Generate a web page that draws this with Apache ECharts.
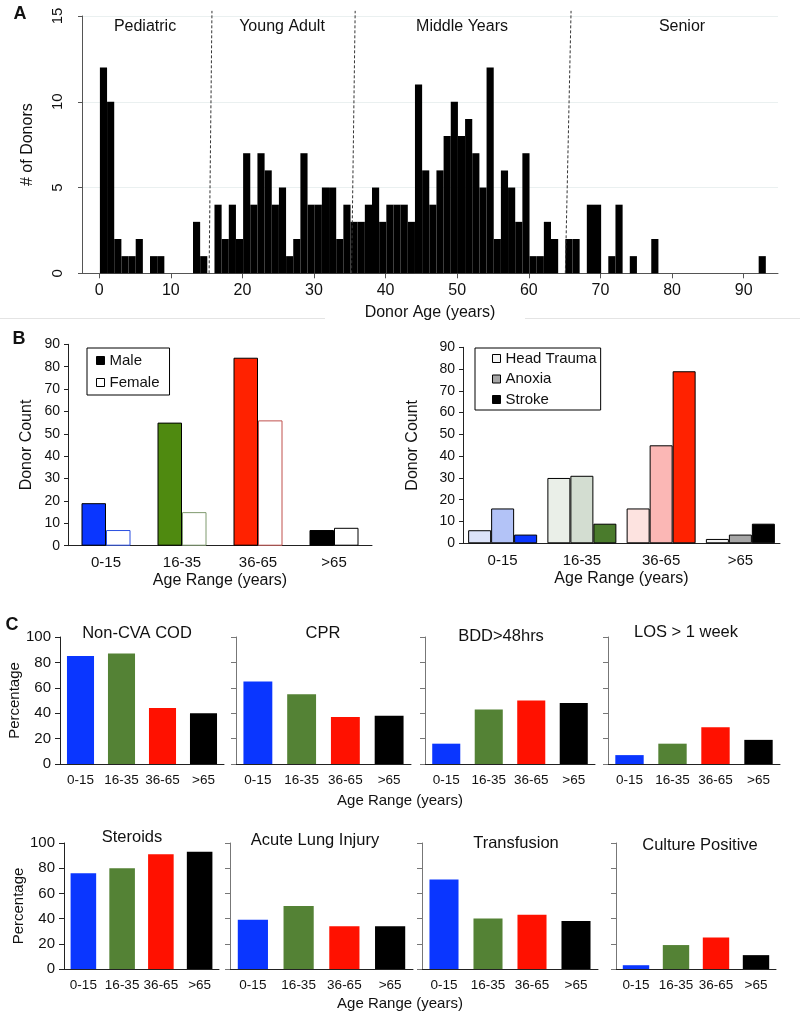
<!DOCTYPE html>
<html>
<head>
<meta charset="utf-8">
<title>Donor age figure</title>
<script src="https://cdnjs.cloudflare.com/ajax/libs/echarts/6.0.0/echarts.min.js"></script>
<style>body{margin:0;background:#fff;}</style>
</head>
<body>
<div id="fig" style="width:800px;height:1015px;"></div>
<script>
var FONT = '"Liberation Sans", Arial, sans-serif';

// ---------- data ----------
// panel A: number of donors per year of age (index = age)
var histCounts = [12,10,2,1,1,2,0,1,1,0, 0,0,0,3,1,0,4,2,4,2,
                  7,4,7,6,4,5,1,2,7,4, 4,5,5,2,4,3,3,4,5,3,
                  4,4,4,3,11,6,4,6,8,10, 8,9,7,5,12,2,6,5,3,7,
                  1,1,3,2,0,2,2,0,4,4, 0,1,4,0,1,0,0,2,0,0,
                  0,0,0,0,0,0,0,0,0,0, 0,0,1];
var ageTicks = [0,10,20,30,40,50,60,70,80,90];
var regionNames = ['Pediatric','Young Adult','Middle Years','Senior'];
// dashed separators: [age at bottom, age at top]
var regionCuts = [[15.35,15.75],[35.25,35.75],[65.1,65.9]];

// panel B
var ageGroups = ['0-15','16-35','36-65','>65'];
var maleCount = [19,55,84,7];
var femaleCount = [7,15,56,8];
var headTrauma = [6,30,16,2];
var anoxia = [16,31,45,4];
var stroke = [4,9,79,9];

// panel C
var cTitles = ['Non-CVA COD','CPR','BDD>48hrs','LOS > 1 week',
               'Steroids','Acute Lung Injury','Transfusion','Culture Positive'];
var nonCvaCod = [85,87,44,40];
var cprPct = [65,55,37,38];
var bddPct = [16,43,50,48];
var losPct = [7,16,29,19];
var steroidsPct = [76,80,91,93];
var aliPct = [39,50,34,34];
var transfusionPct = [71,40,43,38];
var culturePct = [3,19,25,11];
var cValues = [nonCvaCod, cprPct, bddPct, losPct, steroidsPct, aliPct, transfusionPct, culturePct];

// ---------- styles ----------
var groupColors = ['#0a36ff','#548235','#ff1100','#000000'];
var maleFill = ['#0a36ff','#4f8a10','#ff2200','#000000'];
var femaleEdge = ['#2a4fe0','#7f9a6e','#c0504d','#000000'];
var causeFill = [
  ['#dce3f9','#eaefe8','#fde3e0','#f4f4f4'],   // head trauma
  ['#b3c3f7','#d3ddd1','#fbb7b5','#a6a6a6'],   // anoxia
  ['#0a36ff','#4a7b2c','#ff2200','#000000']    // stroke
];
var cLefts = [60,236,425,608, 64,230,422,616];
var cWidths = [164,175,170,172, 155,183,176,160];
var BIN_SHIFT = 0.1;

var grids = [], xAxes = [], yAxes = [], series = [];

function txt(size, extra){
  var s = {fontFamily: FONT, fontSize: size, color: '#111'};
  for (var k in extra) s[k] = extra[k];
  return s;
}

// ---------- panel A ----------
grids.push({left:82, top:16, width:696, height:257.3});
xAxes.push({
  gridIndex:0, type:'value', min:-2.4, max:94.8,
  name:'Donor Age (years)', nameLocation:'middle', nameGap:31, nameTextStyle: txt(16),
  axisLine:{show:true, onZero:false, lineStyle:{color:'#555'}},
  axisTick:{show:true, customValues:ageTicks, length:5, lineStyle:{color:'#555'}},
  axisLabel:{customValues:ageTicks, margin:9, fontFamily:FONT, fontSize:16, color:'#111'},
  splitLine:{show:false}
});
yAxes.push({
  gridIndex:0, type:'value', min:0, max:15, interval:5,
  name:'# of Donors', nameLocation:'middle', nameRotate:90, nameGap:46, nameTextStyle: txt(16),
  axisLine:{show:true, onZero:false, lineStyle:{color:'#555'}},
  axisTick:{show:true, length:4, lineStyle:{color:'#555'}},
  axisLabel:{rotate:90, margin:17, fontFamily:FONT, fontSize:15, color:'#111'},
  splitLine:{show:true, lineStyle:{color:'#eaf0f0'}}
});
series.push({
  type:'custom', xAxisIndex:0, yAxisIndex:0,
  data: histCounts.map(function(c, age){ return [age, c]; }),
  encode:{x:0, y:1},
  renderItem: function(params, api){
    var age = api.value(0), n = api.value(1);
    if (!n) return;
    var p0 = api.coord([age + BIN_SHIFT, n]);
    var p1 = api.coord([age + BIN_SHIFT + 1, 0]);
    return {type:'rect', shape:{x:p0[0], y:p0[1], width:p1[0]-p0[0], height:p1[1]-p0[1]}, style:{fill:'#000'}};
  }
});
// dashed age-group separators
regionCuts.forEach(function(c){
  series.push({
    type:'line', xAxisIndex:0, yAxisIndex:0, silent:true, symbol:'none', clip:false, z:5,
    lineStyle:{color:'#333', type:[3,2], width:1},
    data:[[c[0],0],[c[1],15.3]]
  });
});

// ---------- panel B ----------
function bAxes(gi, left, top, w, h, nameGapY){
  grids.push({left:left, top:top, width:w, height:h});
  xAxes.push({
    gridIndex:gi, type:'category', data:ageGroups,
    name:'Age Range (years)', nameLocation:'middle', nameGap:27, nameTextStyle: txt(16),
    axisLine:{lineStyle:{color:'#222'}}, axisTick:{show:false},
    axisLabel:{margin:10, fontFamily:FONT, fontSize:15, color:'#111'}
  });
  yAxes.push({
    gridIndex:gi, type:'value', min:0, max:90, interval:10,
    name:'Donor Count', nameLocation:'middle', nameRotate:90, nameGap:nameGapY, nameTextStyle: txt(16),
    axisLine:{show:true, lineStyle:{color:'#222'}},
    axisTick:{show:true, length:4, lineStyle:{color:'#222'}},
    axisLabel:{margin:8, fontFamily:FONT, fontSize:14, color:'#111'},
    splitLine:{show:false}
  });
}
bAxes(1, 68, 344.3, 304, 201.4, 33);
bAxes(2, 463, 347.3, 317, 196, 42);

series.push({
  name:'Male', type:'bar', xAxisIndex:1, yAxisIndex:1, barWidth:24.5, barGap:'0%',
  itemStyle:{color:'#000', borderColor:'#000', borderWidth:1},
  data: maleCount.map(function(v,j){ return {value:v, itemStyle:{color:maleFill[j]}}; })
});
series.push({
  name:'Female', type:'bar', xAxisIndex:1, yAxisIndex:1, barWidth:24.5, barGap:'0%',
  itemStyle:{color:'#fff', borderColor:'#000', borderWidth:1},
  data: femaleCount.map(function(v,j){ return {value:v, itemStyle:{color:'#fff', borderColor:femaleEdge[j]}}; })
});
[['Head Trauma', headTrauma], ['Anoxia', anoxia], ['Stroke', stroke]].forEach(function(s, si){
  series.push({
    name:s[0], type:'bar', xAxisIndex:2, yAxisIndex:2, barWidth:23, barGap:'0%',
    itemStyle:{color:causeFill[si][3], borderColor:'#000', borderWidth:1},
    data: s[1].map(function(v,j){ return {value:v, itemStyle:{color:causeFill[si][j]}}; })
  });
});

// ---------- panel C ----------
cValues.forEach(function(vals, i){
  var gi = 3 + i;
  var first = (i % 4 === 0);
  var row2 = i >= 4;
  grids.push({left:cLefts[i], top: row2 ? 843 : 637, width:cWidths[i], height: row2 ? 126 : 127});
  xAxes.push({
    gridIndex:gi, type:'category', data:ageGroups,
    axisLine:{lineStyle:{color:'#222'}}, axisTick:{show:false},
    axisLabel:{margin:9, interval:0, fontFamily:FONT, fontSize:13.5, color:'#111'}
  });
  yAxes.push({
    gridIndex:gi, type:'value', min:0, max:100, interval:20,
    name: first ? 'Percentage' : '', nameLocation:'middle', nameRotate:90,
    nameGap: row2 ? 32.5 : 30.5, nameTextStyle: txt(15),
    axisLine:{show:true, lineStyle:{color: first ? '#222' : '#777'}},
    axisTick:{show:true, length:5, lineStyle:{color: first ? '#222' : '#777'}},
    axisLabel:{show:first, margin:9, fontFamily:FONT, fontSize:15, color:'#111'},
    splitLine:{show:false}
  });
  series.push({
    type:'bar', xAxisIndex:gi, yAxisIndex:gi, barCategoryGap:'34%',
    data: vals.map(function(v,j){ return {value:v, itemStyle:{color:groupColors[j]}}; })
  });
});

// ---------- text and decorations ----------
function gText(text, x, y, size, weight){
  return {type:'text', x:x, y:y, silent:true, style:{
    text:text, fontFamily:FONT, fontSize:size, fontWeight:weight || 'normal', fill:'#111',
    align:'center', verticalAlign:'middle', textAlign:'center', textVerticalAlign:'middle'}};
}
var graphics = [
  gText('A', 20, 14, 18, 'bold'),
  gText('B', 19, 339, 18, 'bold'),
  gText('C', 12, 625, 18, 'bold'),
  {type:'line', silent:true, shape:{x1:0, y1:318.5, x2:325, y2:318.5}, style:{stroke:'#e4e4e4', lineWidth:1}},
  {type:'line', silent:true, shape:{x1:525, y1:318.5, x2:800, y2:318.5}, style:{stroke:'#e4e4e4', lineWidth:1}},
  gText('Age Range (years)', 400, 801, 15),
  gText('Age Range (years)', 400, 1004, 15)
];
var regionX = [145, 282, 462, 682];
regionNames.forEach(function(n, i){ graphics.push(gText(n, regionX[i], 27, 16)); });
var titleX = [137, 323, 501, 686, 132, 315, 516, 700];
var titleY = [633, 633, 636, 632, 837, 840, 843, 845];
cTitles.forEach(function(t, i){ graphics.push(gText(t, titleX[i], titleY[i], 16.5)); });

var option = {
  animation:false,
  textStyle:{fontFamily:FONT},
  grid: grids, xAxis: xAxes, yAxis: yAxes, series: series,
  legend: [
    {data:[{name:'Male', icon:'rect', itemStyle:{color:'#000', borderColor:'#000', borderWidth:1}},
           {name:'Female', icon:'rect', itemStyle:{color:'#fff', borderColor:'#000', borderWidth:1}}],
     orient:'vertical', left:87, top:348, itemWidth:8, itemHeight:8, itemGap:5,
     padding:[4,10,4,9], borderColor:'#000', borderWidth:1, selectedMode:false,
     textStyle:{fontFamily:FONT, fontSize:15, color:'#111', lineHeight:17}},
    {data:[{name:'Head Trauma', icon:'rect', itemStyle:{color:'#f4f4f4', borderColor:'#000', borderWidth:1}},
           {name:'Anoxia', icon:'rect', itemStyle:{color:'#a6a6a6', borderColor:'#000', borderWidth:1}},
           {name:'Stroke', icon:'rect', itemStyle:{color:'#000', borderColor:'#000', borderWidth:1}}],
     orient:'vertical', left:475, top:348, itemWidth:8, itemHeight:8, itemGap:3.5,
     padding:[2,4,2,17], borderColor:'#000', borderWidth:1, selectedMode:false,
     textStyle:{fontFamily:FONT, fontSize:15, color:'#111', lineHeight:17}}
  ],
  graphic: graphics
};

var chart = echarts.init(document.getElementById('fig'));
chart.setOption(option);
</script>
</body>
</html>
